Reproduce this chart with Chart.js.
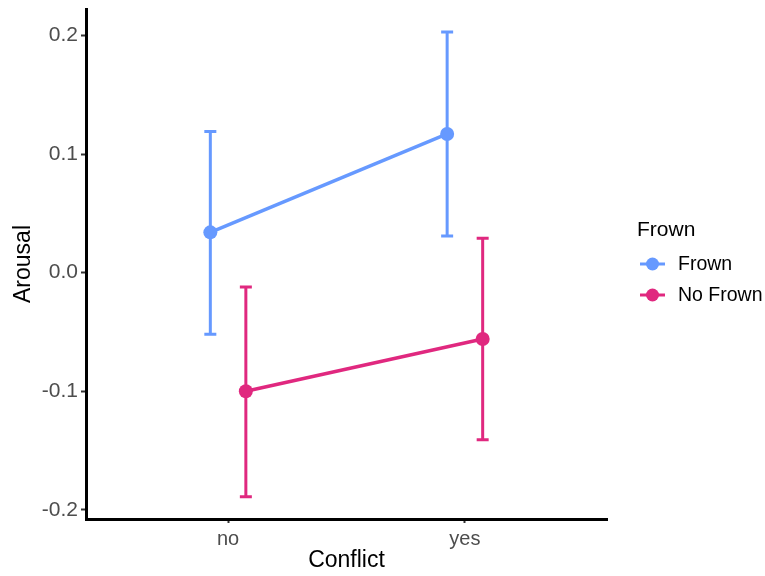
<!DOCTYPE html>
<html>
<head>
<meta charset="utf-8">
<script src="https://cdn.jsdelivr.net/npm/chart.js@4"></script>
<style>
  html, body { margin: 0; padding: 0; background: #fff; }
  #wrap { width: 765px; height: 576px; position: relative; }
</style>
</head>
<body>
<div id="wrap"><canvas id="c"></canvas></div>
<script>
// ---- data ----
const categories = ['no', 'yes'];
const seriesNames = ['Frown', 'No Frown'];
const frownMean  = [0.034, 0.117];
const frownLower = [-0.052, 0.031];
const frownUpper = [0.119, 0.203];
const noFrownMean  = [-0.100, -0.056];
const noFrownLower = [-0.189, -0.141];
const noFrownUpper = [-0.012, 0.029];
const yTicks = [-0.2, -0.1, 0.0, 0.1, 0.2];
const legendTitle = 'Frown';
const xTitle = 'Conflict';
const yTitle = 'Arousal';

// ---- style ----
const FONT = "'Liberation Sans', Arial, Helvetica, sans-serif";
const colors = ['#6699FF', '#E0287F'];
const dodge = [-0.075, 0.075];

function pts(mean, lower, upper, s) {
  return categories.map((c, i) => ({ x: i + 1 + dodge[s], y: mean[i], lo: lower[i], hi: upper[i] }));
}

const errorBars = {
  id: 'errorBars',
  beforeDatasetsDraw(chart) {
    const ctx = chart.ctx;
    const xs = chart.scales.x, ys = chart.scales.y;
    chart.data.datasets.forEach((ds) => {
      ctx.save();
      ctx.strokeStyle = ds.borderColor;
      ctx.lineWidth = 3;
      ctx.lineCap = 'butt';
      ds.data.forEach((p) => {
        const px = xs.getPixelForValue(p.x);
        const top = ys.getPixelForValue(p.hi);
        const bot = ys.getPixelForValue(p.lo);
        ctx.beginPath();
        ctx.moveTo(px, top); ctx.lineTo(px, bot);
        ctx.moveTo(px - 6, top); ctx.lineTo(px + 6, top);
        ctx.moveTo(px - 6, bot); ctx.lineTo(px + 6, bot);
        ctx.stroke();
      });
      ctx.restore();
    });
  }
};

const customLegend = {
  id: 'customLegend',
  afterDraw(chart) {
    const ctx = chart.ctx;
    ctx.save();
    ctx.fillStyle = '#000';
    ctx.font = '21px ' + FONT;
    ctx.textAlign = 'left';
    ctx.textBaseline = 'middle';
    ctx.fillText(legendTitle, 637, 230);
    const rows = [264, 295];
    chart.data.datasets.forEach((ds, i) => {
      const y = rows[i];
      ctx.strokeStyle = ds.borderColor;
      ctx.lineWidth = 3;
      ctx.beginPath();
      ctx.moveTo(640, y); ctx.lineTo(665, y);
      ctx.stroke();
      ctx.fillStyle = ds.borderColor;
      ctx.beginPath();
      ctx.arc(652.5, y, 6.5, 0, Math.PI * 2);
      ctx.fill();
      ctx.fillStyle = '#000';
      ctx.font = '19.5px ' + FONT;
      ctx.fillText(ds.label, 678, y + 1);
    });
    ctx.restore();
  }
};

new Chart(document.getElementById('c'), {
  type: 'scatter',
  data: {
    datasets: [
      { label: seriesNames[0], data: pts(frownMean, frownLower, frownUpper, 0),
        borderColor: colors[0], backgroundColor: colors[0], showLine: true, borderWidth: 3.5,
        pointRadius: 7, pointBorderWidth: 0, pointHoverRadius: 7 },
      { label: seriesNames[1], data: pts(noFrownMean, noFrownLower, noFrownUpper, 1),
        borderColor: colors[1], backgroundColor: colors[1], showLine: true, borderWidth: 3.5,
        pointRadius: 7, pointBorderWidth: 0, pointHoverRadius: 7 }
    ]
  },
  options: {
    responsive: true,
    maintainAspectRatio: false,
    animation: false,
    devicePixelRatio: 1,
    layout: { padding: { top: 9, right: 158, bottom: 0, left: 0 } },
    plugins: { legend: { display: false }, tooltip: { enabled: false } },
    scales: {
      x: {
        type: 'linear', min: 0.4, max: 2.6,
        afterBuildTicks(scale) { scale.ticks = categories.map((c, i) => ({ value: i + 1 })); },
        afterFit(scale) { scale.height = 57; scale.paddingLeft = 0; scale.paddingRight = 0; },
        ticks: {
          callback: (v) => categories[Math.round(v) - 1] ?? '',
          color: '#4D4D4D', font: { family: FONT, size: 20 }, padding: 4, maxRotation: 0
        },
        grid: { display: true, drawOnChartArea: false, drawTicks: true, tickLength: 4, tickColor: '#333', tickWidth: 2 },
        border: { display: true, color: '#000', width: 3 },
        title: { display: true, text: xTitle, color: '#000', font: { family: FONT, size: 23 }, padding: { top: 0, bottom: 2 } }
      },
      y: {
        type: 'linear', min: -0.2078, max: 0.2224,
        afterBuildTicks(scale) { scale.ticks = yTicks.map(v => ({ value: v })); },
        afterFit(scale) { scale.width = 86; scale.paddingTop = 0; scale.paddingBottom = 0; },
        ticks: {
          callback: (v) => Number(v).toFixed(1),
          color: '#4D4D4D', font: { family: FONT, size: 21 }, padding: 3
        },
        grid: { display: true, drawOnChartArea: false, drawTicks: true, tickLength: 5, tickColor: '#333', tickWidth: 2 },
        border: { display: true, color: '#000', width: 3 },
        title: { display: true, text: yTitle, color: '#000', font: { family: FONT, size: 23 }, padding: { top: 10, bottom: 0 } }
      }
    }
  },
  plugins: [errorBars, customLegend]
});
</script>
</body>
</html>
